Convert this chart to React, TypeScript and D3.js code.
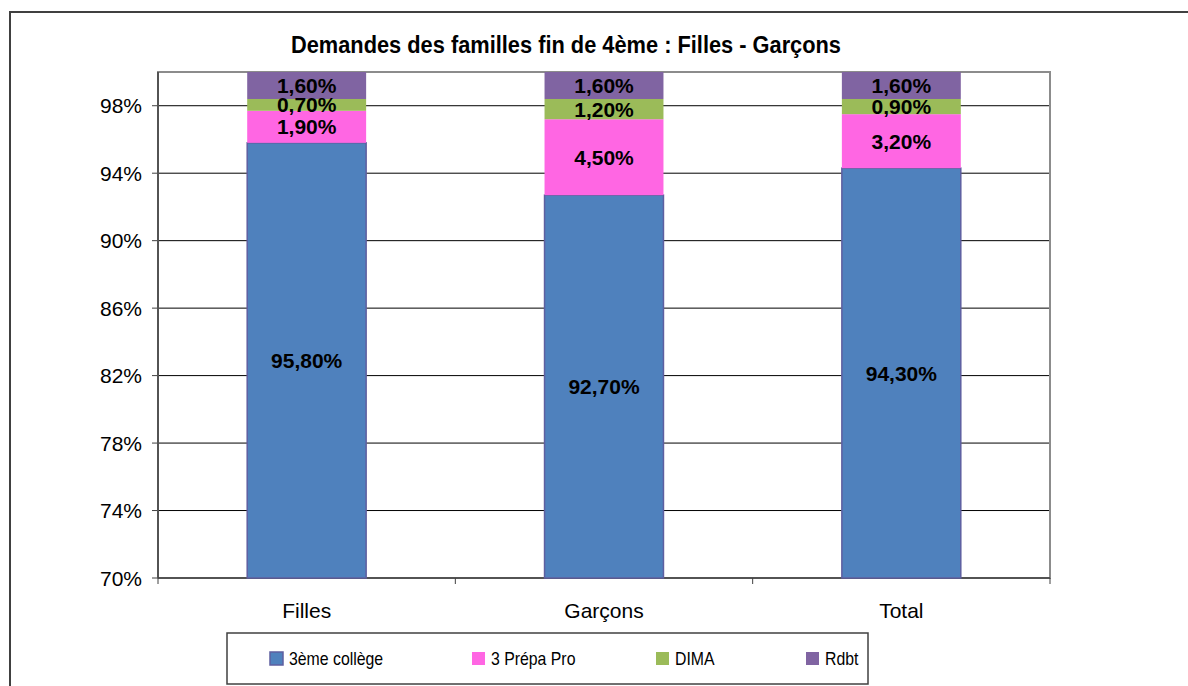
import React from "react";
import * as d3 from "d3";

const categories = ["Filles", "Garçons", "Total"];
const seriesNames = ["3ème collège", "3 Prépa Pro", "DIMA", "Rdbt"];
const college = [95.8, 92.7, 94.3];
const prepaPro = [1.9, 4.5, 3.2];
const dima = [0.7, 1.2, 0.9];
const rdbt = [1.6, 1.6, 1.6];
const yTicks = [70, 74, 78, 82, 86, 90, 94, 98];
const colors = ["#4F81BD", "#FF66E3", "#9BBB59", "#8064A2"];
const title = "Demandes des familles fin de 4ème : Filles - Garçons";

const fmt = (v: number) => v.toFixed(2).replace(".", ",") + "%";

export default function App() {
  const W = 1188, H = 686;
  const left = 158, right = 1050, top = 72, bottom = 578;
  const x = d3.scaleBand<string>().domain(categories).range([left, right]).paddingInner(0.6).paddingOuter(0.3);
  const xb = d3.scaleBand<string>().domain(categories).range([left, right]);
  const y = d3.scaleLinear().domain([70, 100]).range([bottom, top]);
  const series = [college, prepaPro, dima, rdbt];
  const table = categories.map((c, i) => {
    const o: any = { cat: c };
    seriesNames.forEach((s, j) => (o[s] = series[j][i]));
    return o;
  });
  const stack = d3.stack<any>().keys(seriesNames)(table);
  const legendX = [270, 472, 656, 806];
  const font = "'Liberation Sans', Arial, sans-serif";
  return (
    <svg width={W} height={H} style={{ position: "absolute", left: 0, top: 0, background: "#fff" }}>
      <rect x={10} y={12} width={1200} height={700} fill="#fff" stroke="#404040" strokeWidth={2} />
      <text x={566} y={53} textAnchor="middle" fontFamily={font} fontWeight="bold" fontSize={23}
        textLength={550} lengthAdjust="spacingAndGlyphs">{title}</text>
      {yTicks.map((t) => (
        <g key={t}>
          <line x1={left} x2={right} y1={y(t)} y2={y(t)} stroke="#000" strokeWidth={1} />
          <line x1={left - 6} x2={left} y1={y(t)} y2={y(t)} stroke="#404040" strokeWidth={1} />
          <text x={142} y={y(t) + 7.5} textAnchor="end" fontFamily={font} fontSize={21}>{t}%</text>
        </g>
      ))}
      <rect x={left} y={top} width={right - left} height={bottom - top} fill="none" stroke="#8c8c8c" strokeWidth={2} />
      <line x1={left} x2={left} y1={top} y2={bottom} stroke="#404040" strokeWidth={1.5} />
      <line x1={left} x2={right} y1={bottom} y2={bottom} stroke="#404040" strokeWidth={1.5} />
      {[...categories.map((c) => xb(c)!), right].map((v, i) => (
        <line key={i} x1={v} x2={v} y1={bottom} y2={bottom + 6} stroke="#404040" strokeWidth={1} />
      ))}
      {stack.map((s, j) =>
        s.map((d, i) => (
          <rect key={j + "-" + i} x={x(categories[i])} y={y(Math.min(d[1], 100))} width={x.bandwidth()}
            height={y(d[0] < 70 ? 70 : d[0]) - y(Math.min(d[1], 100))} fill={colors[j]}
            stroke={j === 0 ? "#5E5FA0" : "none"} strokeWidth={j === 0 ? 1.5 : 0} />
        ))
      )}
      {stack.map((s, j) =>
        s.map((d, i) => {
          const lo = Math.max(d[0], 70), hi = Math.min(d[1], 100);
          return (
            <text key={"t" + j + "-" + i} x={x(categories[i])! + x.bandwidth() / 2} y={(y(lo) + y(hi)) / 2 + 7.5}
              textAnchor="middle" fontFamily={font} fontWeight="bold" fontSize={21}>{fmt(series[j][i])}</text>
          );
        })
      )}
      {categories.map((c) => (
        <text key={c} x={xb(c)! + xb.bandwidth() / 2} y={618} textAnchor="middle" fontFamily={font} fontSize={21}>{c}</text>
      ))}
      <rect x={227} y={633} width={641} height={51} fill="#fff" stroke="#404040" strokeWidth={1.5} />
      {seriesNames.map((n, j) => (
        <g key={n}>
          <rect x={legendX[j]} y={652} width={13} height={13} fill={colors[j]} stroke={j === 0 ? "#5E5FA0" : "none"} strokeWidth={1.5} />
          <text transform={`translate(${legendX[j] + 19},665) scale(0.88,1)`} fontFamily={font} fontSize={18}>{n}</text>
        </g>
      ))}
    </svg>
  );
}
